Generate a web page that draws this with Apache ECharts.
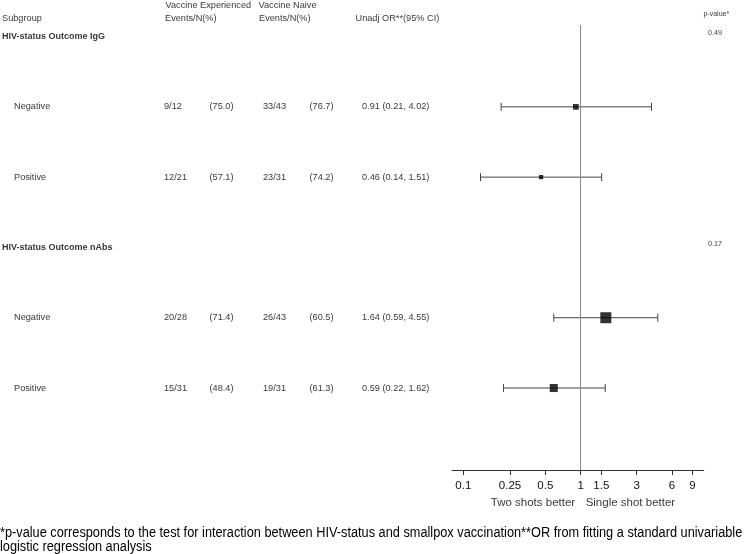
<!DOCTYPE html>
<html>
<head>
<meta charset="utf-8">
<script src="https://cdn.jsdelivr.net/npm/echarts@6/dist/echarts.min.js"></script>
<style>
html,body{margin:0;padding:0;background:#fff;}
#chart{width:750px;height:554px;}
</style>
</head>
<body>
<div id="chart"></div>
<script>
// ---------- DATA ----------
const groups = ['HIV-status Outcome IgG', 'HIV-status Outcome nAbs'];
const groupP = ['0.49', '0.17'];
const subgroups = ['Negative', 'Positive', 'Negative', 'Positive'];
const subgroupGroup = [0, 0, 1, 1];
const expEvents = ['9/12', '12/21', '20/28', '15/31'];
const expPct = ['(75.0)', '(57.1)', '(71.4)', '(48.4)'];
const naiveEvents = ['33/43', '23/31', '26/43', '19/31'];
const naivePct = ['(76.7)', '(74.2)', '(60.5)', '(61.3)'];
const orEst = [0.91, 0.46, 1.64, 0.59];
const orLow = [0.21, 0.14, 0.59, 0.22];
const orHigh = [4.02, 1.51, 4.55, 1.62];
const boxWeight = [0.52, 0.39, 1.0, 0.73];
const tickValues = [0.1, 0.25, 0.5, 1, 1.5, 3, 6, 9];
const tickLabels = ['0.1', '0.25', '0.5', '1', '1.5', '3', '6', '9'];
const footnote = '*p-value corresponds to the test for interaction between HIV-status and smallpox vaccination**OR from fitting a standard univariable\nlogistic regression analysis';

// ---------- LAYOUT ----------
const FONT = '"Liberation Sans", Arial, sans-serif';
const TXT = 9.2;
const groupRow = [];
const subRow = [];
let r = 0;
groups.forEach((g, gi) => {
  groupRow.push(r); r++;
  subgroups.forEach((s, si) => { if (subgroupGroup[si] === gi) { subRow[si] = r; r++; } });
});

const col = { sub: 14, head: 2, expE: 164, expP: 209.5, naiE: 263, naiP: 309.5, or: 362, p: 708 };
const log = v => Math.log10(v);

function textSeries(items, opts) {
  return {
    type: 'scatter', xAxisIndex: 1, yAxisIndex: 1, symbolSize: 0, silent: true, clip: false,
    data: items.map(it => ({ value: [it[0], it[1]], name: it[2] })),
    label: Object.assign({
      show: true, position: 'right', distance: 0, formatter: p => p.name,
      color: '#000', fontFamily: FONT, fontSize: TXT
    }, opts || {})
  };
}

const orText = orEst.map((v, i) => v.toFixed(2) + ' (' + orLow[i].toFixed(2) + ', ' + orHigh[i].toFixed(2) + ')');

const series = [];
series.push(textSeries([
  [col.expE + 1.5, -0.435, 'Vaccine Experienced'],
  [col.naiE - 4.5, -0.435, 'Vaccine Naive'],
  [col.head, -0.25, 'Subgroup'],
  [col.expE + 1, -0.25, 'Events/N(%)'],
  [col.naiE - 4, -0.25, 'Events/N(%)'],
  [col.or - 6.5, -0.25, 'Unadj OR**(95% CI)']
]));
series.push(textSeries([[col.p - 4.5, -0.315, 'p-value*']], { fontSize: 7 }));
series.push(textSeries(groups.map((g, i) => [col.head, groupRow[i], g]), { fontWeight: 'bold', fontSize: 9 }));
series.push(textSeries(groupP.map((p, i) => [col.p, groupRow[i] - 0.05, p]), { fontSize: 7.2 }));
series.push(textSeries(subgroups.map((s, i) => [col.sub, subRow[i], s])));
series.push(textSeries(expEvents.map((s, i) => [col.expE, subRow[i], s])));
series.push(textSeries(expPct.map((s, i) => [col.expP, subRow[i], s])));
series.push(textSeries(naiveEvents.map((s, i) => [col.naiE, subRow[i], s])));
series.push(textSeries(naivePct.map((s, i) => [col.naiP, subRow[i], s])));
series.push(textSeries(orText.map((s, i) => [col.or, subRow[i], s])));

series.push({
  type: 'custom', xAxisIndex: 0, yAxisIndex: 0, silent: true, clip: false,
  data: orEst.map((v, i) => [log(orLow[i]), log(orHigh[i]), subRow[i]]),
  encode: { x: [0, 1], y: 2 },
  renderItem: function (params, api) {
    const a = api.coord([api.value(0), api.value(2)]);
    const b = api.coord([api.value(1), api.value(2)]);
    const st = { stroke: '#444', lineWidth: 1 };
    return {
      type: 'group', children: [
        { type: 'line', shape: { x1: a[0], y1: a[1], x2: b[0], y2: b[1] }, style: st },
        { type: 'line', shape: { x1: a[0], y1: a[1] - 4, x2: a[0], y2: a[1] + 4 }, style: st },
        { type: 'line', shape: { x1: b[0], y1: b[1] - 4, x2: b[0], y2: b[1] + 4 }, style: st }
      ]
    };
  },
  markLine: {
    silent: true, symbol: 'none', label: { show: false },
    lineStyle: { color: '#8a8a8a', width: 1, type: 'solid' },
    data: [{ xAxis: log(1) }]
  },
  z: 3
});
series.push({
  type: 'scatter', xAxisIndex: 0, yAxisIndex: 0, symbol: 'rect', silent: true,
  data: orEst.map((v, i) => [log(v), subRow[i], boxWeight[i]]),
  symbolSize: v => 11 * v[2],
  itemStyle: { color: '#000' },
  z: 5
});
series.push({
  type: 'scatter', xAxisIndex: 0, yAxisIndex: 0, symbolSize: 0, silent: true, clip: false,
  data: [
    { value: [log(1), 6.63], name: 'Two shots better', label: { position: 'left', distance: 5.5 } },
    { value: [log(1), 6.63], name: 'Single shot better', label: { position: 'right', distance: 5 } }
  ],
  label: { show: true, formatter: p => p.name, color: '#000', fontFamily: FONT, fontSize: 11.5 }
});

const option = {
  backgroundColor: '#fff',
  animation: false,
  graphic: [{
    type: 'text', left: 0, top: 526, scaleX: 0.911, silent: true,
    style: { text: footnote, fill: '#000', font: 'normal 14px "Liberation Sans", Arial, sans-serif', lineHeight: 14 }
  }],
  grid: [
    { left: 452, right: 46.3, top: 25, bottom: 84 },
    { left: 0, right: 0, top: 0, bottom: 0 }
  ],
  xAxis: [
    {
      type: 'value', gridIndex: 0, min: log(0.08), max: log(11.2), position: 'bottom',
      axisLine: { show: true, onZero: false, lineStyle: { color: '#333', width: 1 } },
      axisTick: { show: true, customValues: tickValues.map(log), length: 5, lineStyle: { color: '#333' } },
      axisLabel: {
        show: true, customValues: tickValues.map(log), margin: 10,
        formatter: v => { const i = tickValues.findIndex(t => Math.abs(log(t) - v) < 1e-6); return i >= 0 ? tickLabels[i] : ''; },
        color: '#111', fontFamily: FONT, fontSize: 11.5
      },
      splitLine: { show: false }
    },
    { type: 'value', gridIndex: 1, min: 0, max: 750, show: false }
  ],
  yAxis: [
    { type: 'value', gridIndex: 0, min: -0.164, max: 6.166, inverse: true, show: false },
    { type: 'value', gridIndex: 1, min: -36.5 / 70.3, max: (554 - 36.5) / 70.3, inverse: true, show: false }
  ],
  series: series
};

const chart = echarts.init(document.getElementById('chart'), null, { renderer: 'canvas' });
chart.setOption(option);
</script>
</body>
</html>
